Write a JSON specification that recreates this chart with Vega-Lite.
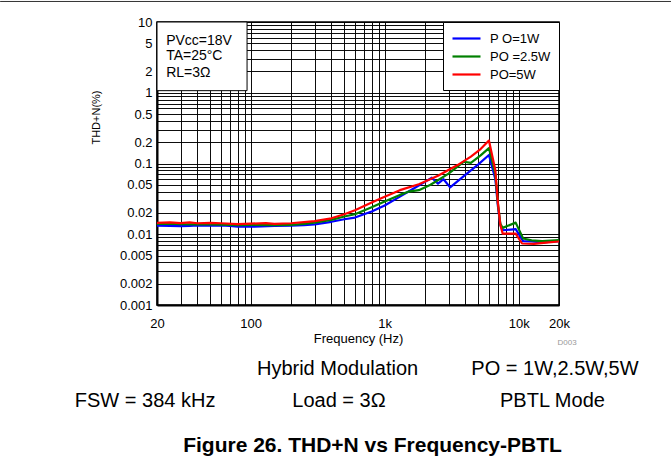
{
  "$schema": "https://vega.github.io/schema/vega-lite/v6.json",
  "width": 402,
  "height": 283,
  "autosize": "none",
  "padding": {"left": 157, "top": 22, "right": 112, "bottom": 152},
  "background": "white",
  "config": {
    "font": "Liberation Sans",
    "view": {"stroke": "#000", "strokeWidth": 1.5},
    "axis": {
      "labelFont": "Liberation Sans",
      "titleFont": "Liberation Sans",
      "labelColor": "#000",
      "titleColor": "#000",
      "titleFontWeight": "normal",
      "domainColor": "#000",
      "domainWidth": 2,
      "gridColor": "#000",
      "gridWidth": 1,
      "gridOpacity": 0.95,
      "ticks": false,
      "labelOverlap": false,
      "labelFlush": false
    },
    "legend": {
      "title": null,
      "orient": "top-right",
      "offset": 0,
      "fillColor": "white",
      "strokeColor": "black",
      "padding": 8,
      "symbolType": "M-2,0H2",
      "symbolSize": 196,
      "symbolOffset": 7,
      "labelFontSize": 13,
      "labelFont": "Liberation Sans",
      "labelColor": "#000",
      "labelOffset": 15,
      "rowPadding": 2
    }
  },
  "layer": [
    {
      "data": {
        "values": [
          {"freq": 20, "thd": 0.0132, "series": "P O=1W"},
          {"freq": 25, "thd": 0.0131, "series": "P O=1W"},
          {"freq": 30, "thd": 0.0130, "series": "P O=1W"},
          {"freq": 35, "thd": 0.0131, "series": "P O=1W"},
          {"freq": 40, "thd": 0.0133, "series": "P O=1W"},
          {"freq": 50, "thd": 0.0132, "series": "P O=1W"},
          {"freq": 60, "thd": 0.0133, "series": "P O=1W"},
          {"freq": 70, "thd": 0.0131, "series": "P O=1W"},
          {"freq": 80, "thd": 0.0128, "series": "P O=1W"},
          {"freq": 100, "thd": 0.0128, "series": "P O=1W"},
          {"freq": 120, "thd": 0.0129, "series": "P O=1W"},
          {"freq": 150, "thd": 0.0131, "series": "P O=1W"},
          {"freq": 200, "thd": 0.0132, "series": "P O=1W"},
          {"freq": 250, "thd": 0.0134, "series": "P O=1W"},
          {"freq": 300, "thd": 0.0138, "series": "P O=1W"},
          {"freq": 400, "thd": 0.0150, "series": "P O=1W"},
          {"freq": 500, "thd": 0.0163, "series": "P O=1W"},
          {"freq": 600, "thd": 0.0172, "series": "P O=1W"},
          {"freq": 800, "thd": 0.0210, "series": "P O=1W"},
          {"freq": 1000, "thd": 0.0255, "series": "P O=1W"},
          {"freq": 1300, "thd": 0.034, "series": "P O=1W"},
          {"freq": 1600, "thd": 0.043, "series": "P O=1W"},
          {"freq": 2000, "thd": 0.055, "series": "P O=1W"},
          {"freq": 2250, "thd": 0.063, "series": "P O=1W"},
          {"freq": 2500, "thd": 0.052, "series": "P O=1W"},
          {"freq": 2750, "thd": 0.060, "series": "P O=1W"},
          {"freq": 3080, "thd": 0.046, "series": "P O=1W"},
          {"freq": 4000, "thd": 0.069, "series": "P O=1W"},
          {"freq": 5000, "thd": 0.097, "series": "P O=1W"},
          {"freq": 6000, "thd": 0.132, "series": "P O=1W"},
          {"freq": 6700, "thd": 0.06, "series": "P O=1W"},
          {"freq": 7000, "thd": 0.025, "series": "P O=1W"},
          {"freq": 7300, "thd": 0.0135, "series": "P O=1W"},
          {"freq": 7600, "thd": 0.0114, "series": "P O=1W"},
          {"freq": 9500, "thd": 0.0118, "series": "P O=1W"},
          {"freq": 10800, "thd": 0.0080, "series": "P O=1W"},
          {"freq": 12500, "thd": 0.0079, "series": "P O=1W"},
          {"freq": 15000, "thd": 0.0077, "series": "P O=1W"},
          {"freq": 20000, "thd": 0.0080, "series": "P O=1W"},

          {"freq": 20, "thd": 0.0140, "series": "PO =2.5W"},
          {"freq": 25, "thd": 0.0141, "series": "PO =2.5W"},
          {"freq": 30, "thd": 0.0139, "series": "PO =2.5W"},
          {"freq": 40, "thd": 0.0138, "series": "PO =2.5W"},
          {"freq": 50, "thd": 0.0138, "series": "PO =2.5W"},
          {"freq": 60, "thd": 0.0137, "series": "PO =2.5W"},
          {"freq": 80, "thd": 0.0135, "series": "PO =2.5W"},
          {"freq": 100, "thd": 0.0136, "series": "PO =2.5W"},
          {"freq": 150, "thd": 0.0135, "series": "PO =2.5W"},
          {"freq": 200, "thd": 0.0136, "series": "PO =2.5W"},
          {"freq": 250, "thd": 0.0140, "series": "PO =2.5W"},
          {"freq": 300, "thd": 0.0146, "series": "PO =2.5W"},
          {"freq": 400, "thd": 0.0160, "series": "PO =2.5W"},
          {"freq": 500, "thd": 0.0178, "series": "PO =2.5W"},
          {"freq": 600, "thd": 0.0192, "series": "PO =2.5W"},
          {"freq": 800, "thd": 0.024, "series": "PO =2.5W"},
          {"freq": 1000, "thd": 0.029, "series": "PO =2.5W"},
          {"freq": 1300, "thd": 0.036, "series": "PO =2.5W"},
          {"freq": 1500, "thd": 0.040, "series": "PO =2.5W"},
          {"freq": 1800, "thd": 0.042, "series": "PO =2.5W"},
          {"freq": 2200, "thd": 0.050, "series": "PO =2.5W"},
          {"freq": 3000, "thd": 0.072, "series": "PO =2.5W"},
          {"freq": 3900, "thd": 0.106, "series": "PO =2.5W"},
          {"freq": 4400, "thd": 0.102, "series": "PO =2.5W"},
          {"freq": 5200, "thd": 0.130, "series": "PO =2.5W"},
          {"freq": 6000, "thd": 0.165, "series": "PO =2.5W"},
          {"freq": 6700, "thd": 0.07, "series": "PO =2.5W"},
          {"freq": 7000, "thd": 0.027, "series": "PO =2.5W"},
          {"freq": 7300, "thd": 0.014, "series": "PO =2.5W"},
          {"freq": 7600, "thd": 0.0123, "series": "PO =2.5W"},
          {"freq": 9500, "thd": 0.0146, "series": "PO =2.5W"},
          {"freq": 10800, "thd": 0.0087, "series": "PO =2.5W"},
          {"freq": 12500, "thd": 0.0082, "series": "PO =2.5W"},
          {"freq": 15000, "thd": 0.0080, "series": "PO =2.5W"},
          {"freq": 20000, "thd": 0.0083, "series": "PO =2.5W"},

          {"freq": 20, "thd": 0.0145, "series": "PO=5W"},
          {"freq": 25, "thd": 0.0147, "series": "PO=5W"},
          {"freq": 30, "thd": 0.0144, "series": "PO=5W"},
          {"freq": 35, "thd": 0.0147, "series": "PO=5W"},
          {"freq": 40, "thd": 0.0143, "series": "PO=5W"},
          {"freq": 50, "thd": 0.0145, "series": "PO=5W"},
          {"freq": 60, "thd": 0.0143, "series": "PO=5W"},
          {"freq": 80, "thd": 0.0139, "series": "PO=5W"},
          {"freq": 100, "thd": 0.0141, "series": "PO=5W"},
          {"freq": 130, "thd": 0.0144, "series": "PO=5W"},
          {"freq": 150, "thd": 0.0140, "series": "PO=5W"},
          {"freq": 200, "thd": 0.0143, "series": "PO=5W"},
          {"freq": 250, "thd": 0.0148, "series": "PO=5W"},
          {"freq": 300, "thd": 0.0153, "series": "PO=5W"},
          {"freq": 400, "thd": 0.0168, "series": "PO=5W"},
          {"freq": 500, "thd": 0.0192, "series": "PO=5W"},
          {"freq": 600, "thd": 0.0218, "series": "PO=5W"},
          {"freq": 800, "thd": 0.028, "series": "PO=5W"},
          {"freq": 1000, "thd": 0.034, "series": "PO=5W"},
          {"freq": 1300, "thd": 0.042, "series": "PO=5W"},
          {"freq": 1800, "thd": 0.051, "series": "PO=5W"},
          {"freq": 2500, "thd": 0.067, "series": "PO=5W"},
          {"freq": 3500, "thd": 0.095, "series": "PO=5W"},
          {"freq": 4400, "thd": 0.125, "series": "PO=5W"},
          {"freq": 5200, "thd": 0.160, "series": "PO=5W"},
          {"freq": 6000, "thd": 0.211, "series": "PO=5W"},
          {"freq": 6700, "thd": 0.08, "series": "PO=5W"},
          {"freq": 7000, "thd": 0.028, "series": "PO=5W"},
          {"freq": 7300, "thd": 0.0135, "series": "PO=5W"},
          {"freq": 7600, "thd": 0.0102, "series": "PO=5W"},
          {"freq": 9500, "thd": 0.0102, "series": "PO=5W"},
          {"freq": 10600, "thd": 0.0074, "series": "PO=5W"},
          {"freq": 13000, "thd": 0.0073, "series": "PO=5W"},
          {"freq": 16000, "thd": 0.0076, "series": "PO=5W"},
          {"freq": 20000, "thd": 0.0079, "series": "PO=5W"}
        ]
      },
      "mark": {"type": "line", "strokeJoin": "round", "strokeCap": "round", "clip": true},
      "encoding": {
        "x": {
          "field": "freq",
          "type": "quantitative",
          "scale": {"type": "log", "domain": [20, 20000], "nice": false},
          "axis": {
            "title": "Frequency (Hz)",
            "titleFontSize": 13,
            "titleBaseline": "alphabetic",
            "titleY": 37,
            "labelFontSize": 13,
            "labelPadding": 12,
            "values": [20, 30, 40, 50, 60, 70, 80, 90, 100, 200, 300, 400, 500, 600, 700, 800, 900, 1000, 2000, 3000, 4000, 5000, 6000, 7000, 8000, 9000, 10000, 20000],
            "labelExpr": "datum.value == 20 ? '20' : datum.value == 100 ? '100' : datum.value == 1000 ? '1k' : datum.value == 10000 ? '10k' : datum.value == 20000 ? '20k' : ''"
          }
        },
        "y": {
          "field": "thd",
          "type": "quantitative",
          "scale": {"type": "log", "domain": [0.001, 10], "nice": false},
          "axis": {
            "title": "THD+N(%)",
            "titleFontSize": 11,
            "titleX": -56,
            "titleY": 95,
            "labelFontSize": 13,
            "labelPadding": 5,
            "values": [0.001, 0.002, 0.003, 0.004, 0.005, 0.006, 0.007, 0.008, 0.009, 0.01, 0.02, 0.03, 0.04, 0.05, 0.06, 0.07, 0.08, 0.09, 0.1, 0.2, 0.3, 0.4, 0.5, 0.6, 0.7, 0.8, 0.9, 1, 2, 3, 4, 5, 6, 7, 8, 9, 10],
            "labelExpr": "indexof([10, 5, 2, 1, 0.5, 0.2, 0.1, 0.05, 0.02, 0.01, 0.005, 0.002, 0.001], datum.value) >= 0 ? '' + datum.value : ''"
          }
        },
        "color": {
          "field": "series",
          "type": "ordinal",
          "sort": ["P O=1W", "PO =2.5W", "PO=5W"],
          "scale": {"domain": ["P O=1W", "PO =2.5W", "PO=5W"], "range": ["#0000ff", "#008000", "#ff0000"]}
        },
        "strokeWidth": {
          "field": "series",
          "type": "ordinal",
          "sort": ["P O=1W", "PO =2.5W", "PO=5W"],
          "scale": {"domain": ["P O=1W", "PO =2.5W", "PO=5W"], "range": [2.2, 2.2, 3.6]}
        }
      }
    },
    {
      "data": {"values": [{}]},
      "mark": {"type": "rect", "fill": "white", "stroke": "black", "strokeWidth": 1, "clip": false},
      "encoding": {"x": {"datum": 20}, "x2": {"datum": 94}, "y": {"datum": 10}, "y2": {"datum": 1.07}}
    },
    {
      "data": {"values": [{}]},
      "mark": {"type": "text", "text": "PVcc=18V", "align": "left", "baseline": "alphabetic", "fontSize": 14, "font": "Liberation Sans", "color": "#000", "clip": false},
      "encoding": {"x": {"datum": 23.4}, "y": {"datum": 4.73}}
    },
    {
      "data": {"values": [{}]},
      "mark": {"type": "text", "text": "TA=25°C", "align": "left", "baseline": "alphabetic", "fontSize": 14, "font": "Liberation Sans", "color": "#000", "clip": false},
      "encoding": {"x": {"datum": 23.4}, "y": {"datum": 2.9}}
    },
    {
      "data": {"values": [{}]},
      "mark": {"type": "text", "text": "RL=3Ω", "align": "left", "baseline": "alphabetic", "fontSize": 14, "font": "Liberation Sans", "color": "#000", "clip": false},
      "encoding": {"x": {"datum": 23.4}, "y": {"datum": 1.69}}
    },
    {
      "data": {"values": [{}]},
      "mark": {"type": "rule", "color": "#333", "strokeWidth": 1, "clip": false},
      "encoding": {"x": {"datum": 1.35}, "x2": {"datum": 137000}, "y": {"datum": 19.5}}
    },
    {
      "data": {"values": [{}]},
      "mark": {"type": "text", "text": "D003", "align": "center", "baseline": "alphabetic", "fontSize": 8, "font": "Liberation Sans", "color": "#999", "clip": false},
      "encoding": {"x": {"datum": 22960}, "y": {"datum": 0.000272}}
    },
    {
      "data": {"values": [{}]},
      "mark": {"type": "text", "text": "Hybrid Modulation", "align": "center", "baseline": "alphabetic", "fontSize": 20, "font": "Liberation Sans", "color": "#000", "clip": false},
      "encoding": {"x": {"datum": 445}, "y": {"datum": 0.0001026}}
    },
    {
      "data": {"values": [{}]},
      "mark": {"type": "text", "text": "PO = 1W,2.5W,5W", "align": "center", "baseline": "alphabetic", "fontSize": 20, "font": "Liberation Sans", "color": "#000", "clip": false},
      "encoding": {"x": {"datum": 18660}, "y": {"datum": 0.0001026}}
    },
    {
      "data": {"values": [{}]},
      "mark": {"type": "text", "text": "FSW = 384 kHz", "align": "center", "baseline": "alphabetic", "fontSize": 20, "font": "Liberation Sans", "color": "#000", "clip": false},
      "encoding": {"x": {"datum": 16.3}, "y": {"datum": 0.0000361}}
    },
    {
      "data": {"values": [{}]},
      "mark": {"type": "text", "text": "Load = 3Ω", "align": "center", "baseline": "alphabetic", "fontSize": 20, "font": "Liberation Sans", "color": "#000", "clip": false},
      "encoding": {"x": {"datum": 456}, "y": {"datum": 0.0000361}}
    },
    {
      "data": {"values": [{}]},
      "mark": {"type": "text", "text": "PBTL Mode", "align": "center", "baseline": "alphabetic", "fontSize": 20, "font": "Liberation Sans", "color": "#000", "clip": false},
      "encoding": {"x": {"datum": 17870}, "y": {"datum": 0.0000361}}
    },
    {
      "data": {"values": [{}]},
      "mark": {"type": "text", "text": "Figure 26. THD+N vs Frequency-PBTL", "align": "center", "baseline": "alphabetic", "fontSize": 21, "fontWeight": "bold", "font": "Liberation Sans", "color": "#000", "clip": false},
      "encoding": {"x": {"datum": 811}, "y": {"datum": 0.00000835}}
    }
  ]
}
